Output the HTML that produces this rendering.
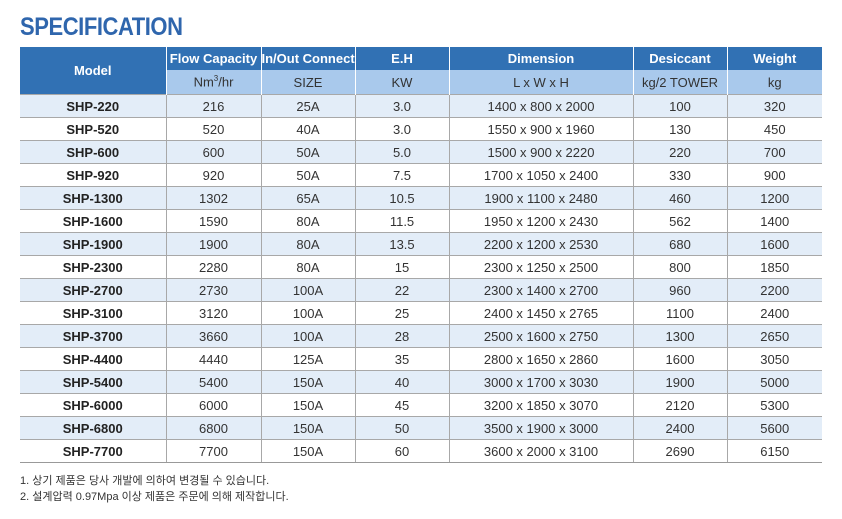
<!DOCTYPE html>
<html><head><meta charset="utf-8">
<style>
body{margin:0;width:842px;height:519px;background:#fff;position:relative;overflow:hidden;font-family:"Liberation Sans","Noto Sans CJK KR",sans-serif;}
#title{position:absolute;left:20px;top:13px;font-size:25px;font-weight:bold;color:#2f66ad;letter-spacing:-0.5px;transform:scaleX(0.88);transform-origin:left;}
table{position:absolute;left:20px;top:47px;width:802px;border-collapse:collapse;table-layout:fixed;font-size:13px;}
td,th{text-align:center;padding:0;white-space:nowrap;}
th.h1{background:#3171b4;color:#fff;height:23px;font-size:13px;border-left:1px solid #fff;}
th.h1:first-child{border-left:none;}
td.h2{background:#a9c9ec;color:#333;height:24px;font-size:13px;border-left:1px solid #fff;}
tbody td{height:22px;border-top:1px solid #a8a8a8;border-left:1px solid #a8a8a8;color:#333;}
tbody td:first-child{border-left:none;font-weight:bold;color:#222;}
tbody tr:nth-child(odd) td{background:#e3edf8;}
tbody tr:last-child td{border-bottom:1px solid #999;}
.note{position:absolute;left:20px;font-size:11px;color:#333;}
</style></head><body>
<div id="title">SPECIFICATION</div>
<table>
<colgroup><col style="width:146px"><col style="width:95px"><col style="width:94px"><col style="width:94px"><col style="width:184px"><col style="width:94px"><col style="width:95px"></colgroup>
<thead>
<tr><th class="h1" rowspan="2">Model</th><th class="h1">Flow Capacity</th><th class="h1">In/Out Connect</th><th class="h1">E.H</th><th class="h1">Dimension</th><th class="h1">Desiccant</th><th class="h1">Weight</th></tr>
<tr><td class="h2">Nm<sup style="font-size:8px">3</sup>/hr</td><td class="h2">SIZE</td><td class="h2">KW</td><td class="h2">L x W x H</td><td class="h2">kg/2 TOWER</td><td class="h2">kg</td></tr>
</thead>
<tbody>
<tr><td>SHP-220</td><td>216</td><td>25A</td><td>3.0</td><td>1400 x 800 x 2000</td><td>100</td><td>320</td></tr>
<tr><td>SHP-520</td><td>520</td><td>40A</td><td>3.0</td><td>1550 x 900 x 1960</td><td>130</td><td>450</td></tr>
<tr><td>SHP-600</td><td>600</td><td>50A</td><td>5.0</td><td>1500 x 900 x 2220</td><td>220</td><td>700</td></tr>
<tr><td>SHP-920</td><td>920</td><td>50A</td><td>7.5</td><td>1700 x 1050 x 2400</td><td>330</td><td>900</td></tr>
<tr><td>SHP-1300</td><td>1302</td><td>65A</td><td>10.5</td><td>1900 x 1100 x 2480</td><td>460</td><td>1200</td></tr>
<tr><td>SHP-1600</td><td>1590</td><td>80A</td><td>11.5</td><td>1950 x 1200 x 2430</td><td>562</td><td>1400</td></tr>
<tr><td>SHP-1900</td><td>1900</td><td>80A</td><td>13.5</td><td>2200 x 1200 x 2530</td><td>680</td><td>1600</td></tr>
<tr><td>SHP-2300</td><td>2280</td><td>80A</td><td>15</td><td>2300 x 1250 x 2500</td><td>800</td><td>1850</td></tr>
<tr><td>SHP-2700</td><td>2730</td><td>100A</td><td>22</td><td>2300 x 1400 x 2700</td><td>960</td><td>2200</td></tr>
<tr><td>SHP-3100</td><td>3120</td><td>100A</td><td>25</td><td>2400 x 1450 x 2765</td><td>1100</td><td>2400</td></tr>
<tr><td>SHP-3700</td><td>3660</td><td>100A</td><td>28</td><td>2500 x 1600 x 2750</td><td>1300</td><td>2650</td></tr>
<tr><td>SHP-4400</td><td>4440</td><td>125A</td><td>35</td><td>2800 x 1650 x 2860</td><td>1600</td><td>3050</td></tr>
<tr><td>SHP-5400</td><td>5400</td><td>150A</td><td>40</td><td>3000 x 1700 x 3030</td><td>1900</td><td>5000</td></tr>
<tr><td>SHP-6000</td><td>6000</td><td>150A</td><td>45</td><td>3200 x 1850 x 3070</td><td>2120</td><td>5300</td></tr>
<tr><td>SHP-6800</td><td>6800</td><td>150A</td><td>50</td><td>3500 x 1900 x 3000</td><td>2400</td><td>5600</td></tr>
<tr><td>SHP-7700</td><td>7700</td><td>150A</td><td>60</td><td>3600 x 2000 x 3100</td><td>2690</td><td>6150</td></tr>
</tbody>
</table>
<div class="note" style="top:472px">1. 상기 제품은 당사 개발에 의하여 변경될 수 있습니다.</div>
<div class="note" style="top:488px">2. 설계압력 0.97Mpa 이상 제품은 주문에 의해 제작합니다.</div>
</body></html>
